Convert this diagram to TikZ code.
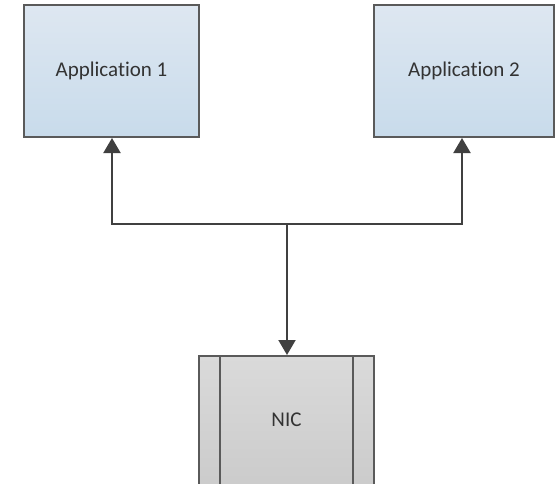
\documentclass[tikz,border=0pt]{standalone}
\usepackage{fontspec}
\setmainfont{Carlito}[Ligatures={NoCommon,NoRare}]
\usetikzlibrary{arrows.meta}
\definecolor{bord}{HTML}{5A5A5A}
\definecolor{arrc}{HTML}{404040}
\definecolor{btop}{HTML}{DEE7F1}
\definecolor{bbot}{HTML}{C8DBEB}
\definecolor{gtop}{HTML}{DADADA}
\definecolor{gbot}{HTML}{C9C9C9}
\tikzset{
  appbox/.style={draw=bord, line width=2pt, top color=btop, bottom color=bbot,
    minimum height=132pt, inner sep=0pt, font=\fontsize{21}{24}\selectfont, text=black!80},
  nicbox/.style={draw=bord, line width=2pt, top color=gtop, bottom color=gbot,
    minimum width=175pt, minimum height=150pt, inner sep=0pt},
  conn/.style={draw=arrc, line width=2pt, -{Triangle[length=15pt,width=17pt]}},
}
\begin{document}
\begin{tikzpicture}[x=1pt,y=-1pt]
\useasboundingbox (0,0) rectangle (556,483);
\clip (0,0) rectangle (556,483);
\node[appbox, minimum width=175pt] (a1) at (111.5,71) {Application 1};
\node[appbox, minimum width=180pt] (a2) at (464,71) {Application 2};
\node[nicbox, anchor=north] (nic) at (286.5,355) {};
\draw[bord, line width=2pt] ([xshift=22pt]nic.north west) -- ([xshift=22pt]nic.south west);
\draw[bord, line width=2pt] ([xshift=-22pt]nic.north east) -- ([xshift=-22pt]nic.south east);
\node[font=\fontsize{21}{24}\selectfont, text=black!80] (nict) at (286.5,420) {NIC};
\coordinate (j) at (287,224);
\draw[conn] (j) -| ([xshift=0.5pt]a1.south);
\draw[conn] (j) -| ([xshift=-2pt]a2.south);
\draw[conn] (j) -- (j |- nic.north);
\end{tikzpicture}
\end{document}
